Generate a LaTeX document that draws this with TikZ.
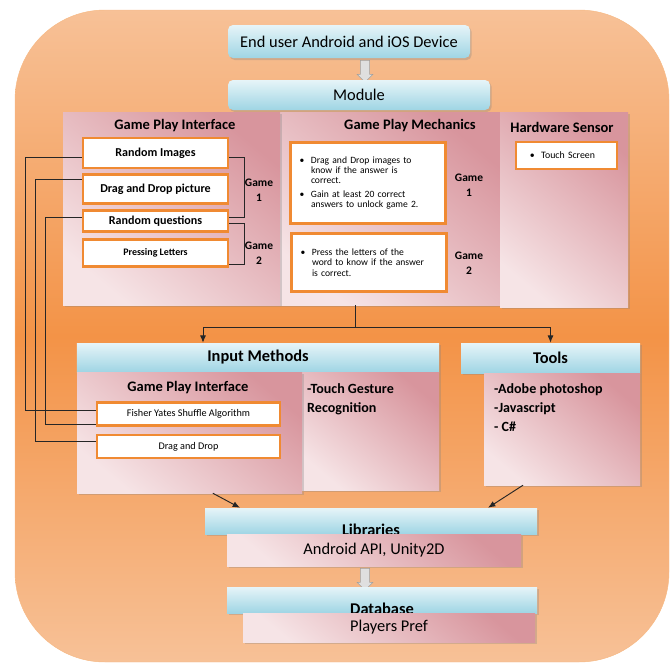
\documentclass[tikz,border=0pt]{standalone}
\usepackage{fontspec}
\setmainfont{Carlito}
\usetikzlibrary{arrows.meta,shapes.arrows,shadows,calc}

\definecolor{orD}{HTML}{F39347}
\definecolor{orL}{HTML}{F7C197}
\definecolor{orB}{HTML}{F08A32}
\definecolor{pnkD}{HTML}{D8959D}
\definecolor{pnkL}{HTML}{F6E4E6}
\definecolor{bluL}{HTML}{E6F4F8}
\definecolor{bluD}{HTML}{9FD5E4}

\newcommand{\bul}{\makebox[3.4mm][l]{\textbullet}}
\newcommand{\ind}{\hspace*{3.4mm}}

\begin{document}
\begin{tikzpicture}[x=0.3mm, y=-0.3mm, >={Latex[length=2.2mm,width=1.8mm]},
    panel/.style={rectangle, inner sep=0, top color=pnkD, bottom color=pnkL, shading angle=-40,
        drop shadow={shadow xshift=0.5mm, shadow yshift=-0.6mm, opacity=0.3}},
    header/.style={rectangle, inner sep=0, top color=bluL, bottom color=bluD,
        drop shadow={shadow xshift=0.5mm, shadow yshift=-0.6mm, opacity=0.3},
        font=\bfseries\fontsize{14}{16}\selectfont},
    hfont/.style={font=\fontsize{14}{16}\selectfont},
    ibox/.style={rectangle, draw=orB, line width=2.4pt, fill=white, inner sep=0},
    title/.style={inner sep=0, font=\bfseries\fontsize{12.4}{14}\selectfont},
    gamelbl/.style={inner sep=0, align=center, font=\bfseries\fontsize{9.8}{12.8}\selectfont},
    wire/.style={line width=0.8pt, black!85},
    blockarr/.style={single arrow, shape border rotate=270, draw=gray!75, fill=gray!25, inner sep=1.3mm,
        single arrow head extend=1mm, minimum height=6.6mm}
]
    % Sfondo
    \useasboundingbox (0,0) rectangle (672,666);
    \shade[top color=orL, bottom color=orL, middle color=orD, rounded corners=27mm, draw=orB!60]
        (15,10) rectangle (669,662);

    % Dispositivo e modulo
    \node[header, hfont, rounded corners=1.5mm, minimum width=72.6mm, minimum height=9.9mm] (device) at (349,41.5) {End user Android and iOS Device};
    \node[blockarr] (arrA) at (365,69) {};
    \node[header, hfont, rounded corners=1.5mm, minimum width=78.6mm, minimum height=9mm] (module) at (359,95) {Module};

    % Tre pannelli
    \node[panel, minimum width=66mm, minimum height=57.9mm] (gpm) at (390,208.5) {};
    \node[panel, minimum width=65.1mm, minimum height=57.9mm] (gpi) at (171.5,208.5) {};
    \node[panel, minimum width=38.4mm, minimum height=58.5mm] (hws) at (564,209.5) {};
    \node[title] (gpiT) at (175,126) {Game Play Interface};
    \node[title] (gpmT) at (410,126) {Game Play Mechanics};
    \node[title] (hwsT) at (562,127) {Hardware Sensor};

    % Interfaccia
    \node[ibox, font=\bfseries\fontsize{10.3}{12}\selectfont, minimum width=43.5mm, minimum height=9mm] (rimg) at (155.5,153) {Random Images};
    \node[ibox, font=\bfseries\fontsize{10.3}{12}\selectfont, minimum width=43.5mm, minimum height=8.5mm] (dragpic) at (155.5,189) {Drag and Drop picture};
    \node[ibox, font=\bfseries\fontsize{10.3}{12}\selectfont, minimum width=43.5mm, minimum height=6.5mm] (rques) at (155.5,221) {Random questions};
    \node[ibox, font=\bfseries\fontsize{8.5}{10}\selectfont, minimum width=43.5mm, minimum height=8.2mm] (press) at (155.5,253) {Pressing Letters};
    \node[gamelbl] (g1a) at (259,190) {Game\\1};
    \node[gamelbl] (g2a) at (259,253) {Game\\2};
    \draw[wire] ([yshift=-1.2mm]rimg.east) -- ++(15,0) |- ([yshift=1.2mm]rques.east);
    \draw[wire] ([yshift=-0.6mm]rques.east) -- ++(15,0) |- ([yshift=-3.3mm]press.east);

    % Meccaniche
    \node[ibox, text width=41mm, align=left, font=\fontsize{8.2}{8.8}\selectfont, minimum width=46.5mm, minimum height=24.2mm] (mech1) at (368,183)
        {\bul Drag and Drop images to\\ \ind know if the answer is\\ \ind correct.\\[1mm] \bul Gain at least 20 correct\\ \ind answers to unlock game 2.};
    \node[ibox, text width=41mm, align=left, font=\fontsize{8.2}{8.8}\selectfont, minimum width=46.5mm, minimum height=17.5mm] (mech2) at (369,262.5)
        {\bul Press the letters of the\\ \ind word to know if the answer\\ \ind is correct.};
    \node[gamelbl] (g1b) at (469,185) {Game\\1};
    \node[gamelbl] (g2b) at (469,263) {Game\\2};

    % Sensore
    \node[ibox, text width=26mm, align=left, font=\fontsize{8.4}{10}\selectfont, minimum width=30.3mm, minimum height=8.1mm] (tscreen) at (566.5,155.5)
        {\hspace*{2mm}\bul Touch Screen};

    % Metodi di input
    \node[header, minimum width=108.6mm, minimum height=8.7mm] (inhead) at (258,357.5) {Input Methods};
    \node[panel, minimum width=41.1mm, minimum height=35.4mm] (touchg) at (370.5,431) {};
    \node[panel, minimum width=67.5mm, minimum height=36.3mm] (ingpi) at (189.5,432.5) {};
    \node[title] (ingpiT) at (188,388) {Game Play Interface};
    \node[title, anchor=north west, align=left, font=\bfseries\fontsize{12}{16.5}\selectfont] (touchT) at (307,383) {-Touch Gesture\\Recognition};
    \node[ibox, font=\fontsize{8.7}{10}\selectfont, minimum width=54.9mm, minimum height=6.7mm] (fisher) at (188.5,414) {Fisher Yates Shuffle Algorithm};
    \node[ibox, font=\fontsize{8.7}{10}\selectfont, minimum width=54.9mm, minimum height=6.9mm] (ddrop) at (188.5,446.5) {Drag and Drop};

    % Strumenti
    \node[header, minimum width=53.7mm, minimum height=9mm] (toolhead) at (550.5,358) {Tools};
    \node[panel, minimum width=46.8mm, minimum height=33.6mm] (toolbox) at (562,429) {};
    \node[title, anchor=north west, align=left, font=\bfseries\fontsize{12}{16.5}\selectfont] (toolT) at (494,383) {-Adobe photoshop\\-Javascript\\- C\#};

    % Connessioni
    \coordinate (split) at (355,327);
    \draw[wire] (split |- gpm.south) -- (split);
    \draw[wire, ->] (split) -| ([xshift=-16.5mm]inhead.north);
    \draw[wire, ->] (split) -| (toolhead.north);
    \draw[wire] ([yshift=-1.2mm]rimg.west) -- ++(-56,0) |- ([yshift=1.2mm]fisher.west);
    \draw[wire] ([yshift=3mm]dragpic.west) -- ++(-46,0) |- ([yshift=1.5mm]ddrop.west);
    \draw[wire] ([yshift=1.2mm]rques.west) -- ++(-36,0) |- ([yshift=-3mm]fisher.west);

    % Librerie e database
    \node[header, minimum width=99.6mm, minimum height=7.8mm] (libhead) at (371,521) {};
    \node[title, anchor=base, font=\bfseries\fontsize{14}{16}\selectfont] (libT) at (371,535.5) {Libraries};
    \node[panel, hfont, minimum width=88.2mm, minimum height=9.6mm] (android) at (374,550) {Android API, Unity2D};
    \node[blockarr] (arrB) at (365,577) {};
    \node[header, minimum width=93mm, minimum height=7.8mm] (dbhead) at (382,600) {};
    \node[title, anchor=base, font=\bfseries\fontsize{14}{16}\selectfont] (dbT) at (382,614.5) {Database};
    \node[panel, hfont, minimum width=87.6mm, minimum height=8.7mm] (players) at (389,627.5) {Players Pref};

    \draw[wire, ->] ([xshift=7mm]ingpi.south) -- ([xshift=-39.3mm]libhead.north);
    \draw[wire, ->] ([xshift=-11.7mm]toolbox.south) -- ([xshift=35.1mm]libhead.north);
\end{tikzpicture}
\end{document}
